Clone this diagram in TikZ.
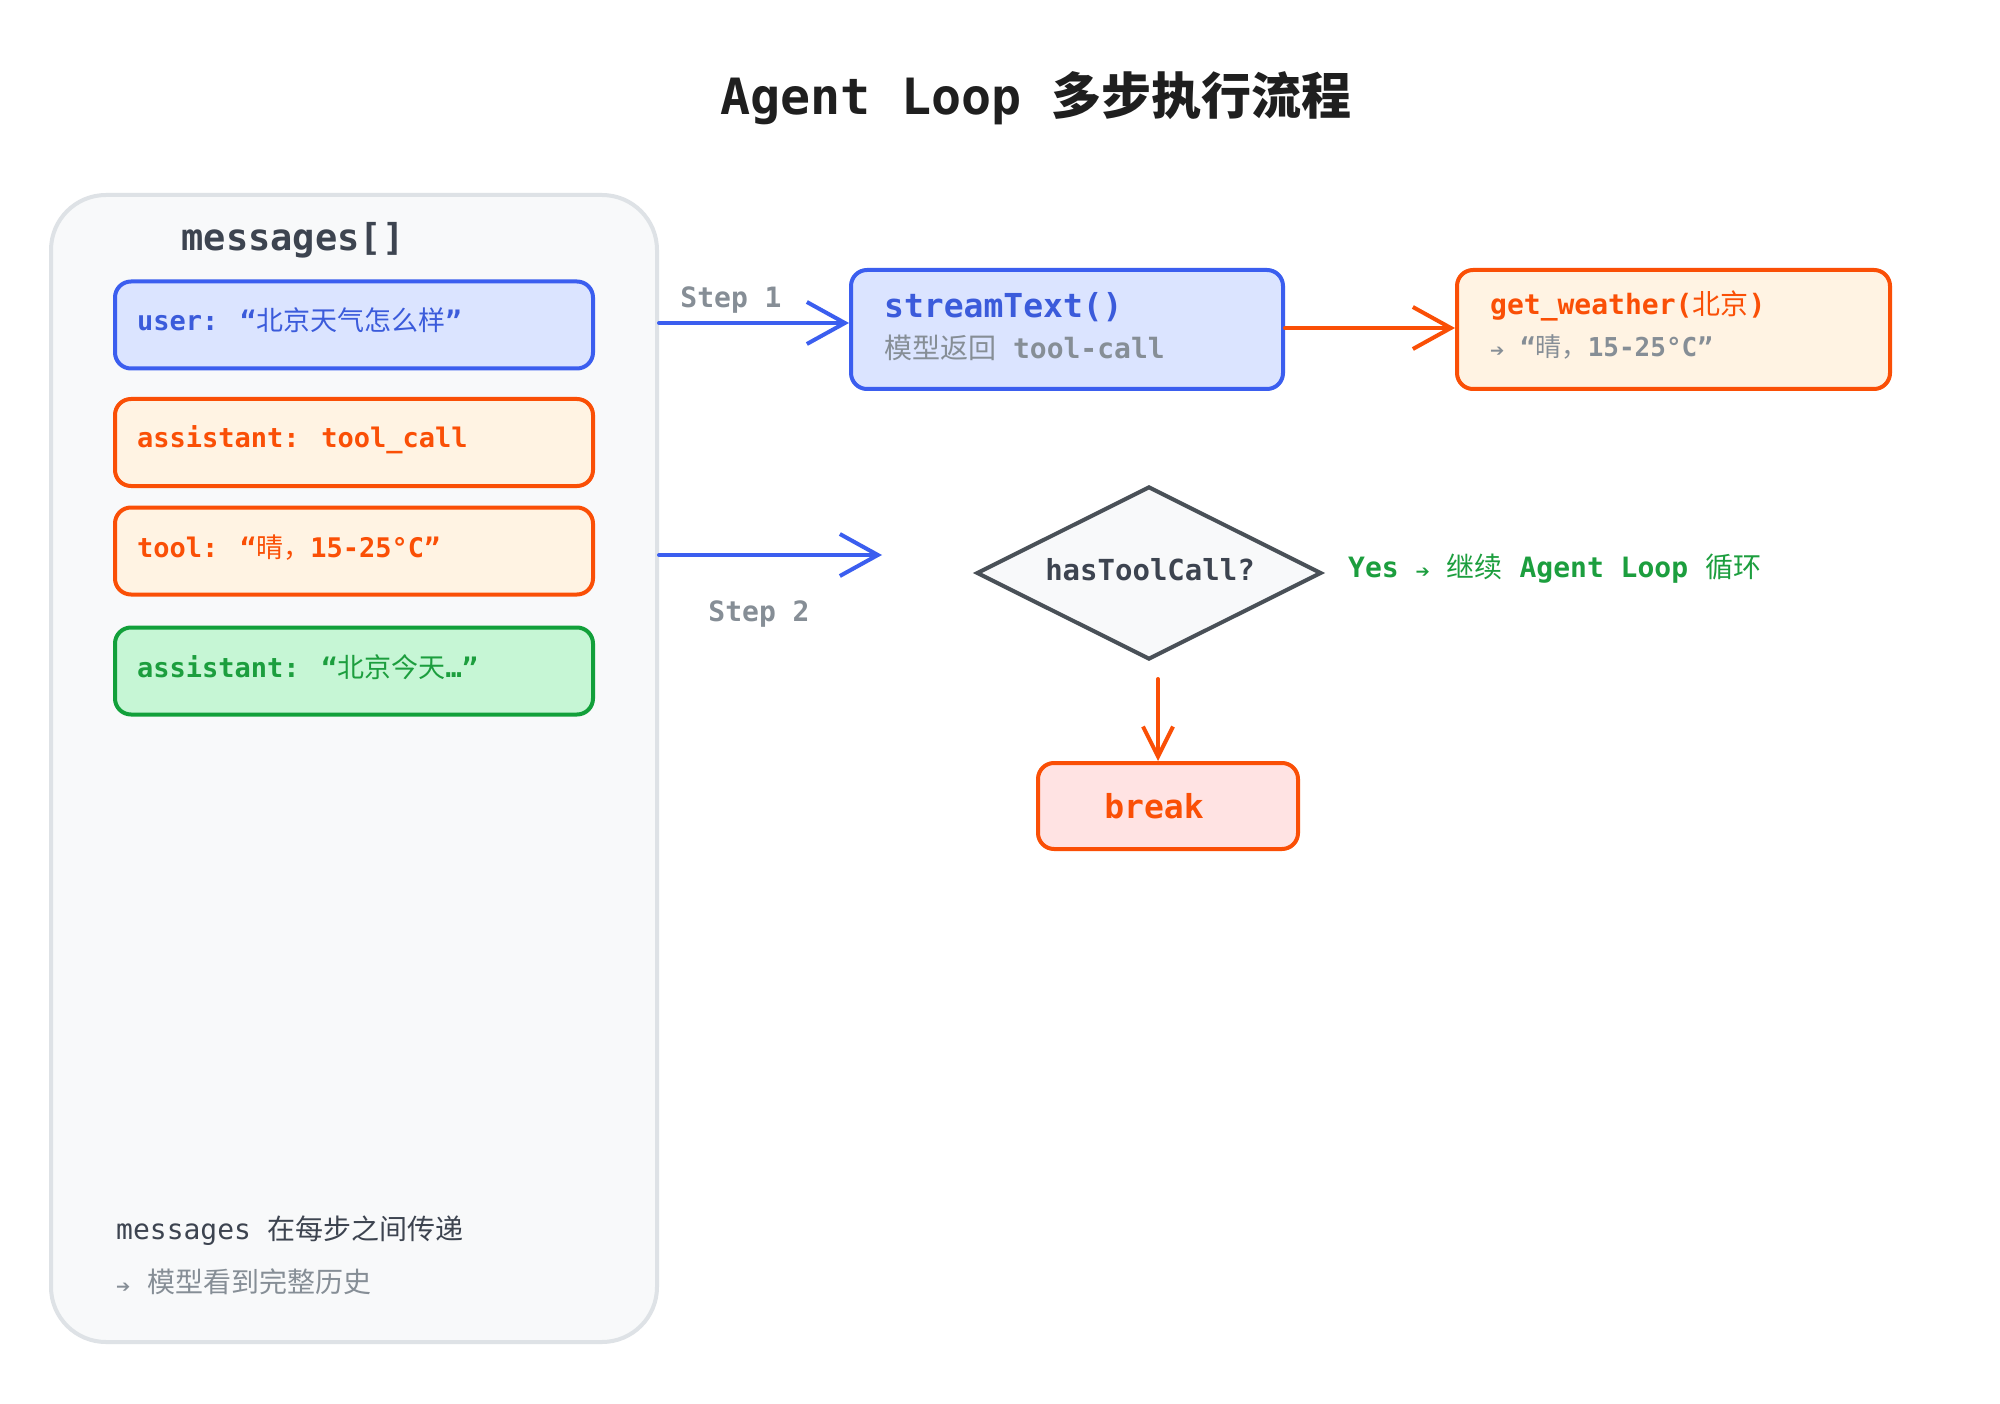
\documentclass[tikz,border=0pt]{standalone}
\usepackage{fontspec}
\setmainfont{DejaVu Sans Mono}
\setmonofont{DejaVu Sans Mono}
\newfontfamily\cjk{Noto Sans CJK SC}
\newfontfamily\symf{DejaVu Sans}
\usetikzlibrary{shapes.geometric,arrows.meta}
\newcommand\zh[1]{{\cjk\mdseries #1}}
\newcommand\zhb[1]{{\cjk #1}}
\newcommand\fsz[1]{\fontsize{#1}{#1}\selectfont}
\newcommand\smarr{{\symf\mdseries\fsz{17}➔}}
\definecolor{bluestroke}{HTML}{3B5EEF}
\definecolor{bluetext}{HTML}{3B5BDB}
\definecolor{bluefill}{HTML}{DBE4FF}
\definecolor{orstroke}{HTML}{FA4F06}
\definecolor{orfill}{HTML}{FFF3E3}
\definecolor{grstroke}{HTML}{12A03A}
\definecolor{grtext}{HTML}{1C9E3E}
\definecolor{grfill}{HTML}{C6F6D5}
\definecolor{pinkfill}{HTML}{FFE3E3}
\definecolor{graytext}{HTML}{868E96}
\definecolor{darktext}{HTML}{3D4450}
\definecolor{panelfill}{HTML}{F8F9FA}
\definecolor{panelstroke}{HTML}{DEE2E6}
\definecolor{diastroke}{HTML}{495057}
\tikzset{
  rbox/.style={draw, line width=4pt, rounded corners=16pt, inner sep=0pt},
  msgbox/.style={rbox, minimum width=478pt, minimum height=87pt},
  lbl/.style={anchor=west, inner sep=0pt},
  arr/.style={line width=4pt, line cap=round, -{Straight Barb[length=38pt,width=42pt,line width=4pt]}},
}
\begin{document}
\begin{tikzpicture}[x=1pt,y=-1pt]
\useasboundingbox (0,0) rectangle (2000,1404);
\fill[white] (0,0) rectangle (2000,1404);

% title
\node[inner sep=0pt] (title) at (1036,98) {\fsz{50}\bfseries\color{black!88} Agent Loop \zhb{多步执行流程}};

% left panel
\node[draw=panelstroke, fill=panelfill, line width=4pt, rounded corners=55pt,
      minimum width=606pt, minimum height=1147pt, inner sep=0pt] (panel) at (354,768.5) {};
\node[inner sep=0pt] (msgtitle) at (293,240) {\fsz{37}\bfseries\color{darktext}messages[]};

% message boxes
\node[msgbox, draw=bluestroke, fill=bluefill] (m1) at (354,325) {};
\node[lbl] (m1t) at (137,320) {\fsz{27}\bfseries\color{bluetext}user: “\zh{北京天气怎么样}”};

\node[msgbox, draw=orstroke, fill=orfill] (m2) at (354,442.5) {};
\node[lbl] (m2t) at (137,440) {\fsz{27}\bfseries\color{orstroke}assistant: tool\_call};

\node[msgbox, draw=orstroke, fill=orfill] (m3) at (354,551) {};
\node[lbl] (m3t) at (137,548) {\fsz{27}\bfseries\color{orstroke}tool: “\zh{晴，}15-25°C”};

\node[msgbox, draw=grstroke, fill=grfill] (m4) at (354,671) {};
\node[lbl] (m4t) at (137,667) {\fsz{27}\bfseries\color{grtext}assistant: “\zh{北京今天}…”};

% bottom notes
\node[lbl] (note1) at (116,1231) {\fsz{28}\color{darktext}messages \zh{在每步之间传递}};
\node[lbl] (note2) at (116,1282) {\fsz{28}\color{graytext}\smarr{} \zh{模型看到完整历史}};

% streamText
\node[rbox, draw=bluestroke, fill=bluefill, minimum width=432pt, minimum height=119pt] (stream) at (1067,329.5) {};
\node[lbl] (streamt) at (884,307) {\fsz{33}\bfseries\color{bluetext}streamText()};
\node[lbl] (streams) at (884,348) {\fsz{28}\bfseries\color{graytext}\zh{模型返回} tool-call};

% get_weather
\node[rbox, draw=orstroke, fill=orfill, minimum width=433pt, minimum height=119pt] (weather) at (1673.5,329.5) {};
\node[lbl] (weathert) at (1490,306) {\fsz{28}\bfseries\color{orstroke}get\_weather(\zh{北京})};
\node[lbl] (weathers) at (1490,347) {\fsz{26}\bfseries\color{graytext}\smarr{} “\zh{晴，}15-25°C”};

% decision
\node[diamond, draw=diastroke, fill=panelfill, line width=4pt, shape aspect=2,
      minimum width=345pt, minimum height=173pt, inner sep=0pt] (dec) at (1149,573) {};
\node[inner sep=0pt] (dect) at (1150,570) {\fsz{29}\bfseries\color{darktext}hasToolCall?};
\node[lbl] (yes) at (1348,569) {\fsz{28}\bfseries\color{grtext}Yes \smarr{} \zh{继续} Agent Loop \zh{循环}};

% break
\node[rbox, draw=orstroke, fill=pinkfill, minimum width=260pt, minimum height=86pt] (brk) at (1168,806) {};
\node[inner sep=0pt] (brkt) at (1154,806) {\fsz{33}\bfseries\color{orstroke}break};

% arrows
\draw[arr, draw=bluestroke] (panel.east |- 0,323) coordinate (s1start) -- (stream.west |- s1start);
\node[inner sep=0pt] (step1) at (731,300) {\fsz{28}\bfseries\color{graytext}Step 1};

\coordinate (s2end) at (882,555);
\draw[arr, draw=bluestroke] (panel.east |- s2end) -- (s2end);
\node[inner sep=0pt] (step2) at (759,614) {\fsz{28}\bfseries\color{graytext}Step 2};

\draw[arr, draw=orstroke] (stream.east |- 0,328) coordinate (o1) -- (weather.west |- o1);

\coordinate (dn1) at (1158,679);
\draw[line width=4pt, line cap=round, draw=orstroke, -{Straight Barb[length=30pt,width=30pt,line width=4pt]}] (dn1) -- (dn1 |- brk.north);
\end{tikzpicture}
\end{document}
